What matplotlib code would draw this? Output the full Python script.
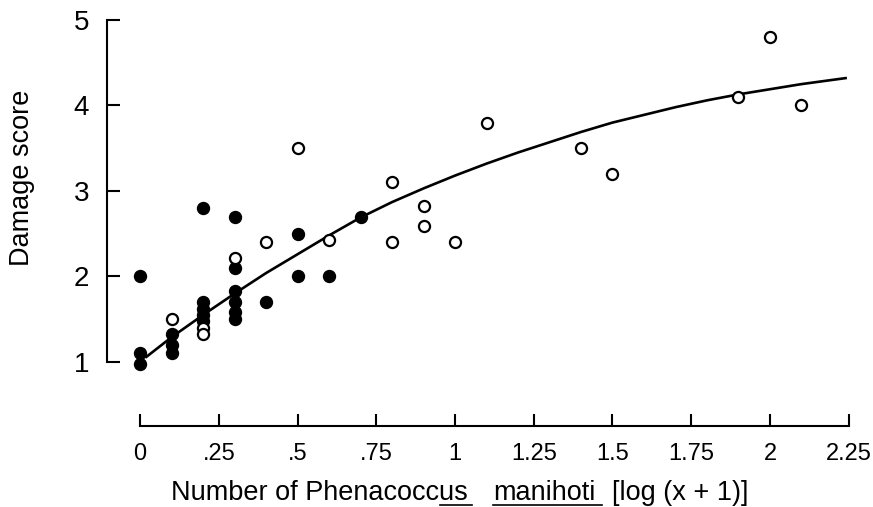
"""
Damage score vs. number of Phenacoccus manihoti, scatter with fitted curve.
"""
import matplotlib
matplotlib.use("Agg")
import matplotlib.pyplot as plt
from matplotlib.lines import Line2D

# filled circles
filled_x = [0, 0, 0, 0.1, 0.1, 0.1, 0.2, 0.2, 0.2, 0.2, 0.2,
            0.3, 0.3, 0.3, 0.3, 0.3, 0.3, 0.4, 0.5, 0.5, 0.6, 0.7]
filled_y = [2.0, 1.1, 0.98, 1.33, 1.2, 1.1, 2.8, 1.7, 1.62, 1.55, 1.48,
            2.7, 2.1, 1.83, 1.7, 1.58, 1.5, 1.7, 2.5, 2.0, 2.0, 2.7]

# open circles
open_x = [0.1, 0.2, 0.2, 0.3, 0.4, 0.5, 0.6, 0.8, 0.8, 0.9, 0.9,
          1.0, 1.1, 1.4, 1.5, 1.9, 2.0, 2.1]
open_y = [1.5, 1.4, 1.33, 2.22, 2.4, 3.5, 2.43, 3.1, 2.4, 2.82, 2.59,
          2.4, 3.8, 3.5, 3.2, 4.1, 4.8, 4.0]

# fitted curve
curve_x = [0.02, 0.1, 0.2, 0.3, 0.4, 0.5, 0.6, 0.7, 0.8, 0.9, 1.0, 1.1,
           1.2, 1.3, 1.4, 1.5, 1.6, 1.7, 1.8, 1.9, 2.0, 2.1, 2.24]
curve_y = [1.06, 1.29, 1.55, 1.80, 2.04, 2.26, 2.48, 2.69, 2.87, 3.03, 3.18,
           3.32, 3.45, 3.57, 3.69, 3.80, 3.89, 3.98, 4.06, 4.13, 4.19, 4.25, 4.32]

x_ticks = [0, 0.25, 0.5, 0.75, 1, 1.25, 1.5, 1.75, 2, 2.25]
x_tick_labels = ["0", ".25", ".5", ".75", "1", "1.25", "1.5", "1.75", "2", "2.25"]
y_ticks = [1, 2, 3, 4, 5]
y_tick_labels = ["1", "2", "3", "4", "5"]

W, H = 873, 507
label_font = ["Liberation Sans", "DejaVu Sans"]

fig = plt.figure(figsize=(W / 100, H / 100), dpi=100)
ax = fig.add_axes([107 / W, (H - 426) / H, (855 - 107) / W, (426 - 15.7) / H])
ax.set_xlim(-0.105, 2.27)
ax.set_ylim(0.2515, 5.05)

ax.plot(curve_x, curve_y, color="black", lw=1.9, zorder=2)
ax.plot(filled_x, filled_y, "o", ms=8.6, color="black", zorder=3, clip_on=False)
ax.plot(open_x, open_y, "o", ms=8.0, mfc="white", mec="black", mew=1.6,
        zorder=4, clip_on=False)

for side in ["top", "right"]:
    ax.spines[side].set_visible(False)
for side in ["left", "bottom"]:
    ax.spines[side].set_linewidth(1.5)
ax.spines["left"].set_bounds(1, 5)
ax.spines["bottom"].set_bounds(0, 2.25)

ax.set_xticks(x_ticks)
ax.set_xticklabels(x_tick_labels, family=label_font, fontsize=17)
ax.set_yticks(y_ticks)
ax.set_yticklabels(y_tick_labels, family=label_font, fontsize=20)
ax.tick_params(direction="in", length=9, width=1.5)
ax.tick_params(axis="x", pad=12)
ax.tick_params(axis="y", pad=13)

# axis labels placed by hand, with underlines as in the scan
fig.text(22 / W, 1 - 178 / H, "Damage score", rotation=90, ha="center",
         va="center", family=label_font, fontsize=19.5)
base = 1 - 500 / H
fig.text(171 / W, base, "Number of Phenacoccus", family=label_font,
         fontsize=19.5, va="baseline")
fig.text(493 / W, base, "manihoti", family=label_font, fontsize=19.5,
         va="baseline")
fig.text(612 / W, base, "[log (x + 1)]", family=label_font, fontsize=19.5,
         va="baseline")
ul_y = 1 - 505 / H
fig.add_artist(Line2D([493 / W, 602 / W], [ul_y, ul_y], color="black", lw=1.2))
fig.add_artist(Line2D([440 / W, 472 / W], [ul_y, ul_y], color="black", lw=1.2))

fig.savefig("out.png", dpi=100)
